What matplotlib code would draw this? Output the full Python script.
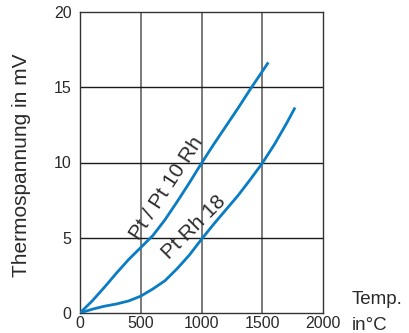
import matplotlib
matplotlib.use("Agg")
import matplotlib.pyplot as plt

plt.rcParams['font.family'] = ['Liberation Sans', 'DejaVu Sans']

# Pt / Pt 10 Rh thermocouple
temp_s = [0, 100, 200, 300, 400, 500, 600, 700, 800, 900, 1000,
          1100, 1200, 1300, 1400, 1500, 1550]
mv_s = [0, 0.8, 1.7, 2.65, 3.55, 4.35, 5.15, 6.2, 7.4, 8.65, 9.95,
        11.2, 12.4, 13.6, 14.85, 16.05, 16.65]

# Pt Rh 18 thermocouple
temp_b = [0, 100, 200, 300, 400, 500, 600, 700, 800, 900, 1000,
          1100, 1200, 1300, 1400, 1500, 1600, 1700, 1770]
mv_b = [0, 0.25, 0.45, 0.6, 0.8, 1.12, 1.6, 2.15, 2.95, 3.85, 4.9,
        5.9, 6.85, 7.8, 8.85, 9.95, 11.2, 12.6, 13.65]

x_ticks = [0, 500, 1000, 1500, 2000]
y_ticks = [0, 5, 10, 15, 20]

blue = '#0a7cc4'
txt = '#2a2a2a'

fig = plt.figure(figsize=(4.09, 3.33), dpi=100)
ax = fig.add_axes([80 / 409, 20 / 333, 243 / 409, 301 / 333])

for x in x_ticks[1:-1]:
    ax.axvline(x, color='#7a7a7a', lw=1.4, zorder=1)
for y in y_ticks[1:-1]:
    ax.axhline(y, color='#1a1a1a', lw=1.0, zorder=1)

ax.plot(temp_s, mv_s, color=blue, lw=2.0, zorder=3, solid_capstyle='butt')
ax.plot(temp_b, mv_b, color=blue, lw=2.0, zorder=3, solid_capstyle='butt')

ax.set_xlim(0, 2000)
ax.set_ylim(0, 20)
ax.set_xticks(x_ticks)
ax.set_yticks(y_ticks)
ax.tick_params(length=0, labelsize=11.5, colors=txt)
ax.tick_params(axis='x', pad=2)
ax.tick_params(axis='y', pad=6)
for s in ax.spines.values():
    s.set_color('#333333')
    s.set_linewidth(1.0)

# curve labels, anchored at the start of their baseline
ax.text(485, 4.8, 'Pt / Pt 10 Rh', rotation=57, ha='left', va='baseline',
        fontsize=15, color=txt, rotation_mode='anchor')
ax.text(730, 3.5, 'Pt Rh 18', rotation=45, ha='left', va='baseline',
        fontsize=15, color=txt, rotation_mode='anchor')

fig.text(22 / 409, 1 - 165 / 333, 'Thermospannung in mV', rotation=90,
         ha='center', va='center', fontsize=15, color=txt)
fig.text(352 / 409, 1 - 300 / 333, 'Temp.', ha='left', va='center',
         fontsize=13.5, color=txt)
fig.text(352 / 409, 1 - 325 / 333, 'in°C', ha='left', va='center',
         fontsize=13.5, color=txt)

fig.savefig('out.png', dpi=100)
